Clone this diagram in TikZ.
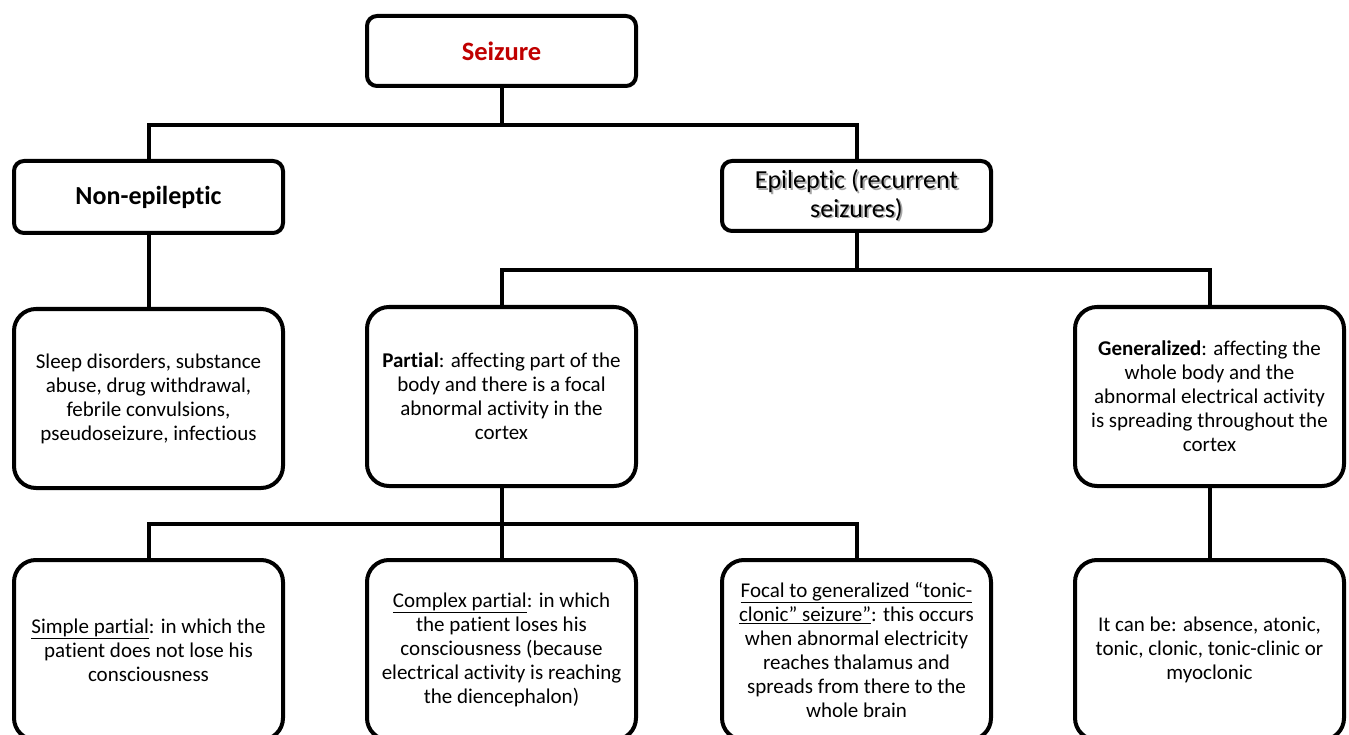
\documentclass[tikz,border=0pt]{standalone}
\usepackage{fontspec}
\setmainfont[Ligatures=NoCommon]{Carlito}
\usepackage{tikz}
\usetikzlibrary{positioning}
\definecolor{SeizRed}{HTML}{C00000}
\newcommand{\shtext}[1]{\makebox[0pt][l]{\raisebox{-1.8pt}{\hspace{1.8pt}\textcolor{black!35}{#1}}}#1}

\tikzset{
  box/.style={draw,line width=4pt,rounded corners=10pt,fill=white,
    minimum width=269pt,align=center,inner sep=4pt},
  bigbox/.style={box,rounded corners=22pt,minimum height=179pt,
    font=\fontsize{21}{24}\selectfont},
  link/.style={line width=4pt}
}

\begin{document}
\begin{tikzpicture}[x=1pt,y=-1pt]
  \useasboundingbox (0,0) rectangle (1349,735);
  \clip (0,0) rectangle (1349,735);
  % top levels
  \node[box,minimum height=70pt,font=\fontsize{26.5}{30}\selectfont\bfseries,text=SeizRed] (seiz) at (501.5,51) {Seizure};
  \node[box,minimum height=72pt,font=\fontsize{26}{30}\selectfont\bfseries] (nonep) at (148.5,197) {Non-epileptic};
  \node[box,minimum height=70pt,font=\fontsize{26}{28.5}\selectfont] (epi) at (856.5,196) {\shtext{Epileptic (recurrent}\\\shtext{seizures)}};
  % middle row
  \node[bigbox] (sleep) at (148.5,398.5) {Sleep disorders, substance\\abuse, drug withdrawal,\\febrile convulsions,\\pseudoseizure, infectious};
  \node[bigbox] (part) at (501.5,396.5) {\textbf{Partial}: affecting part of the\\body and there is a focal\\abnormal activity in the\\cortex};
  \node[bigbox] (gen) at (1209.5,396.5) {\textbf{Generalized}: affecting the\\whole body and the\\abnormal electrical activity\\is spreading throughout the\\cortex};
  % bottom row
  \node[bigbox,minimum height=180pt] (simple) at (148.5,650) {\underline{Simple partial}: in which the\\patient does not lose his\\consciousness};
  \node[bigbox,minimum height=180pt] (complex) at (501.5,650) {\underline{Complex partial}: in which\\the patient loses his\\consciousness (because\\electrical activity is reaching\\the diencephalon)};
  \node[bigbox,minimum height=180pt] (focal) at (856.5,650) {\underline{Focal to generalized ``tonic-}\\\underline{clonic'' seizure''}: this occurs\\when abnormal electricity\\reaches thalamus and\\spreads from there to the\\whole brain};
  \node[bigbox,minimum height=180pt] (canbe) at (1209.5,650) {It can be: absence, atonic,\\tonic, clonic, tonic-clinic or\\myoclonic};
  % connectors
  \draw[link] (seiz.south) -- ++(0,37) coordinate (bus1);
  \draw[link] (bus1) -| (nonep.north);
  \draw[link] (bus1) -| (epi.north);
  \draw[link] (nonep.south) -- (sleep.north);
  \draw[link] (epi.south) -- ++(0,37) coordinate (bus2);
  \draw[link] (bus2) -| (part.north);
  \draw[link] (bus2) -| (gen.north);
  \draw[link] (part.south) -- ++(0,36) coordinate (bus3);
  \draw[link] (bus3) -| (simple.north);
  \draw[link] (bus3) -| (complex.north);
  \draw[link] (bus3) -| (focal.north);
  \draw[link] (gen.south) -- (canbe.north);
\end{tikzpicture}
\end{document}
